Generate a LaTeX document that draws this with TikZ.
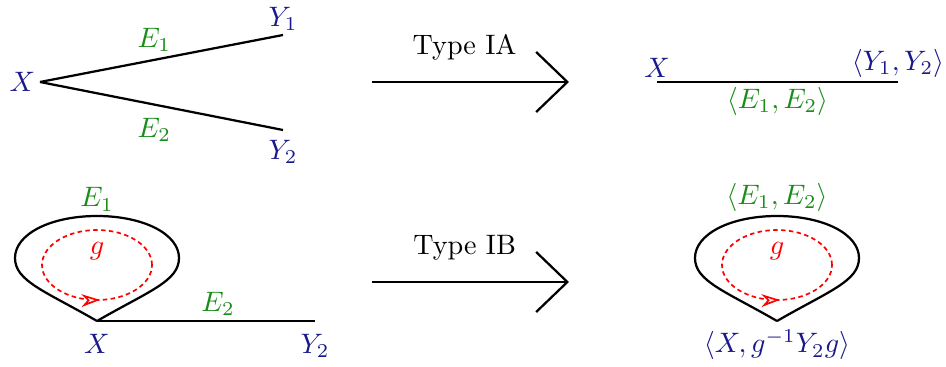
\documentclass[tikz,border=0pt]{standalone}
\usepackage{amsmath}
\usepackage{tikz}
\usetikzlibrary{arrows.meta, positioning, decorations.markings}
\definecolor{vertexblue}{RGB}{25,25,140}
\definecolor{edgegreen}{RGB}{25,140,25}
\definecolor{loopred}{RGB}{255,0,0}
\tikzset{
  vlab/.style={text=vertexblue, inner sep=1.5pt},
  elab/.style={text=edgegreen, inner sep=1.5pt},
  movearrow/.style={thick, -{Straight Barb[length=3.9mm, width=7.5mm]}},
  gloop/.style={loopred, semithick, dash pattern=on 1.6pt off 1.2pt,
    postaction={decorate}, decoration={markings,
      mark=at position 0.76 with {\arrow[solid]{Stealth[open, fill=white, length=2.3mm, width=1.6mm]}}}},
}
% teardrop loop hanging on a vertex
\newcommand{\dropface}[1]{%
  \draw[thick] (#1) .. controls +(150:0.75) and +(270:0.29) .. ++(-1.025,0.7875)
    .. controls +(90:0.3) and +(180:0.58) .. ++(1.025,0.525)
    .. controls +(0:0.58) and +(90:0.3) .. ++(1.025,-0.525)
    .. controls +(270:0.29) and +(30:0.75) .. (#1);}

\begin{document}
\begin{tikzpicture}
  \useasboundingbox (0,0) rectangle (11.825,4.5875);
  % Type IA, before
  \coordinate (xa) at (0.5,3.5625);
  \coordinate (ya1) at (3.5375,4.15);
  \coordinate (ya2) at (3.5375,2.9625);
  \draw[thick] (xa) -- node[elab, above=1pt, pos=0.47] (ea1) {$E_1$} (ya1);
  \draw[thick] (xa) -- node[elab, below=3pt, pos=0.47] (ea2) {$E_2$} (ya2);
  \node[vlab, left] (xalab) at (xa) {$X$};
  \node[vlab, above] (ya1lab) at (ya1) {$Y_1$};
  \node[vlab, below=2pt] (ya2lab) at (ya2) {$Y_2$};

  \coordinate (ia0) at (4.65,3.5625);
  \coordinate (ia1) at (7.1125,3.5625);
  \draw[movearrow] (ia0) -- node[above=4pt, pos=0.47] (ialab) {Type IA} (ia1);

  % Type IA, after
  \coordinate (xb) at (8.2125,3.5625);
  \coordinate (yb) at (11.225,3.5625);
  \draw[thick] (xb) -- node[elab, below] (eb) {$\langle E_1,E_2\rangle$} (yb);
  \node[vlab, above] (xblab) at (xb) {$X$};
  \node[vlab, above] (yblab) at (yb) {$\langle Y_1,Y_2\rangle$};

  % Type IB, before
  \coordinate (xc) at (1.2125,0.575);
  \coordinate (yc) at (3.9375,0.575);
  \coordinate (ctop) at (1.2125,1.8875);
  \coordinate (cg) at (1.2125,1.275);
  \dropface{xc}
  \draw[gloop] (cg) ellipse [x radius=0.6875, y radius=0.4375];
  \node[text=loopred] (cglab) at (1.2125,1.45) {$g$};
  \draw[thick] (xc) -- node[elab, above, pos=0.555] (ec2) {$E_2$} (yc);
  \node[elab, above] (ec1) at (ctop) {$E_1$};
  \node[vlab, below=3pt] (xclab) at (xc) {$X$};
  \node[vlab, below=3pt] (yclab) at (yc) {$Y_2$};

  \coordinate (ib0) at (4.65,1.0625);
  \coordinate (ib1) at (7.1125,1.0625);
  \draw[movearrow] (ib0) -- node[above=4pt, pos=0.47] (iblab) {Type IB} (ib1);

  % Type IB, after
  \coordinate (xd) at (9.7125,0.575);
  \coordinate (dtop) at (9.7125,1.8875);
  \coordinate (dg) at (9.7125,1.275);
  \dropface{xd}
  \draw[gloop] (dg) ellipse [x radius=0.6875, y radius=0.4375];
  \node[text=loopred] (dglab) at (9.7125,1.45) {$g$};
  \node[elab, above] (ed) at (dtop) {$\langle E_1,E_2\rangle$};
  \node[vlab, below=1.5pt] (xdlab) at (xd) {$\langle X,g^{-1}Y_2g\rangle$};
\end{tikzpicture}
\end{document}
